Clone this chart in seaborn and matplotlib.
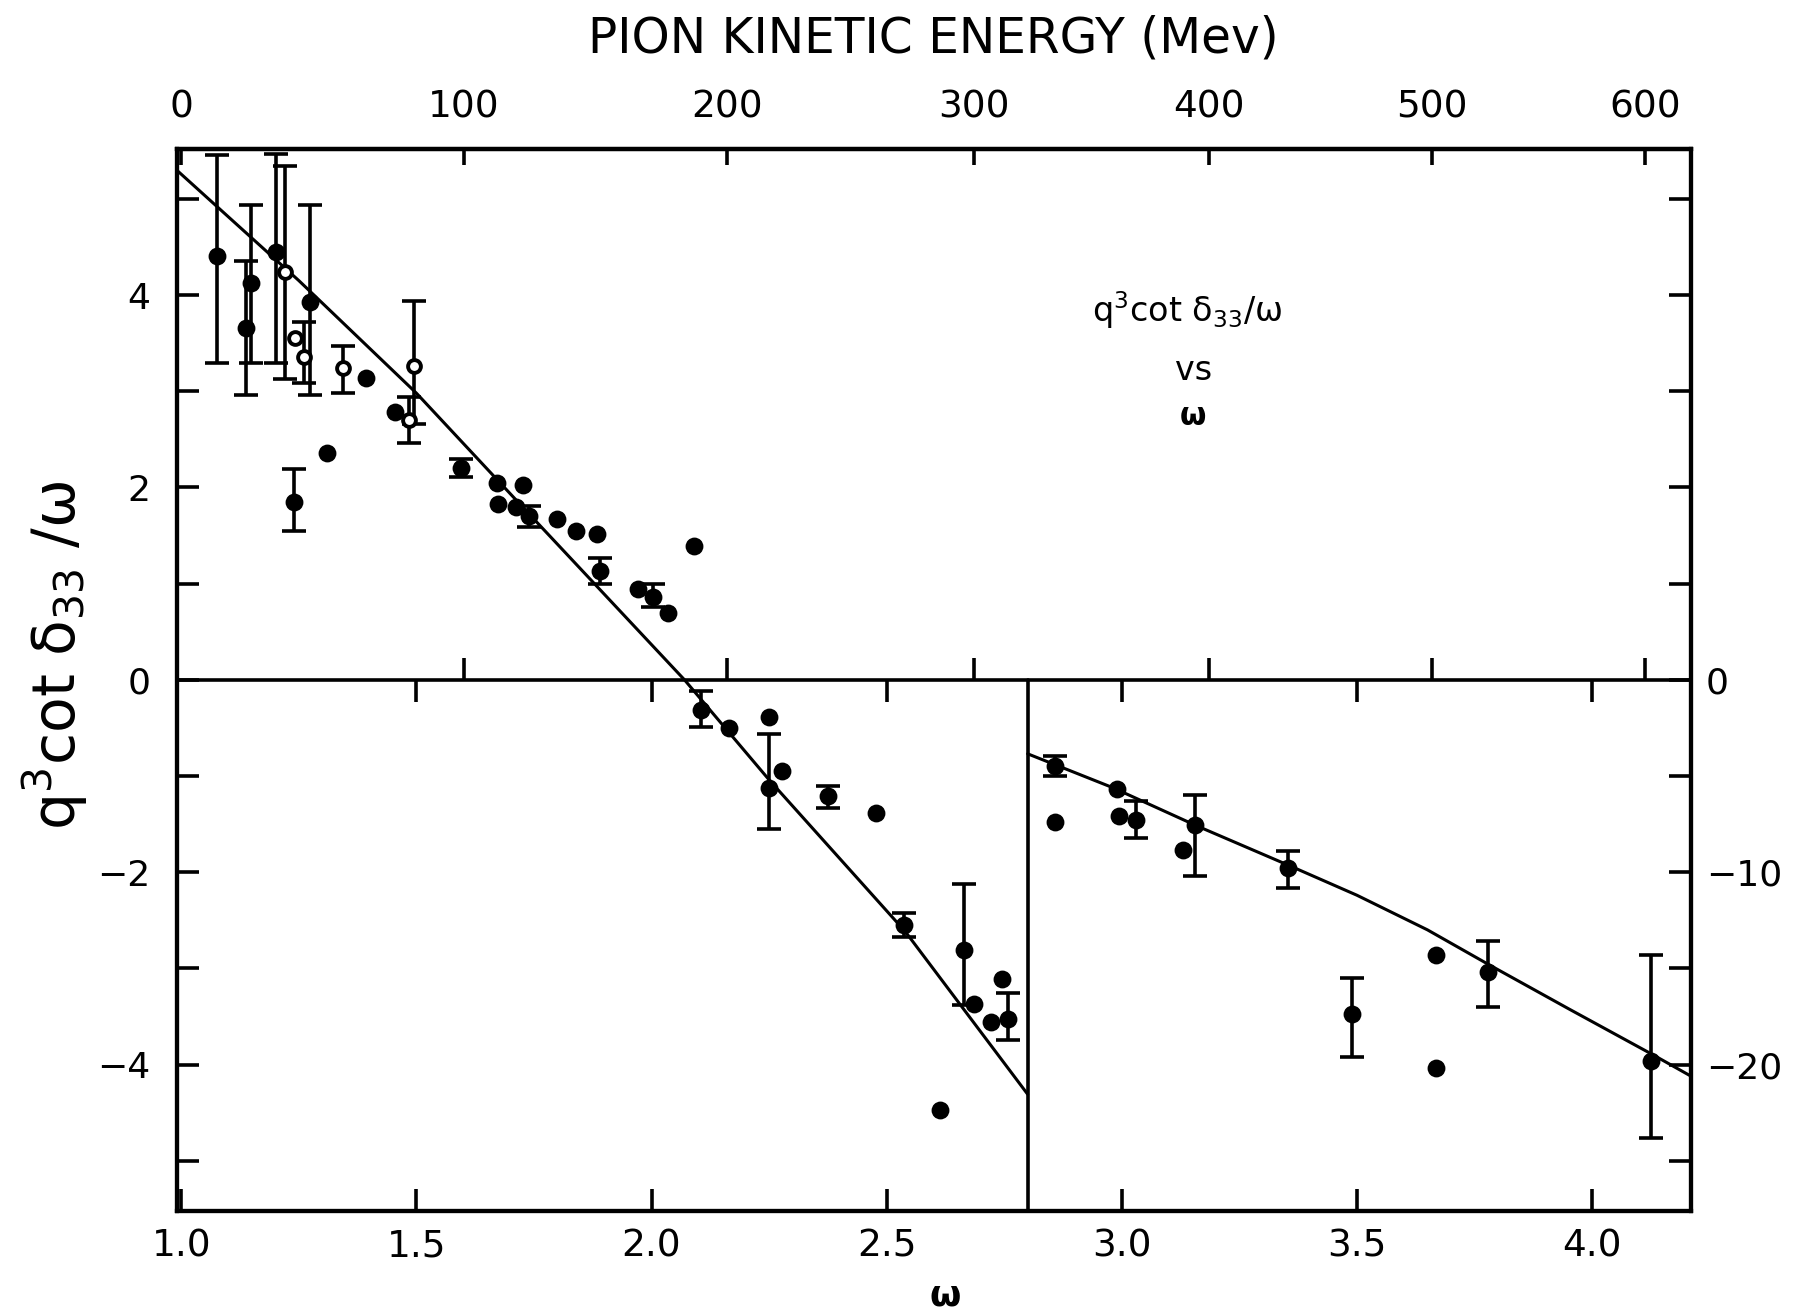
import numpy as np
import matplotlib
matplotlib.use("Agg")
import matplotlib.pyplot as plt
from matplotlib.ticker import FixedLocator, FuncFormatter
import seaborn as sns

# ---------------------------------------------------------------
# q^3 cot(delta_33)/omega versus omega  (pi-nucleon P33 phase shift)
# ---------------------------------------------------------------

# Low-energy part (omega < 2.8), left scale
# filled points with error bars
w_err = [1.077, 1.138, 1.149, 1.202, 1.239, 1.274, 1.595, 1.740, 1.890, 2.004,
         2.105, 2.250, 2.376, 2.537, 2.664, 2.758]
y_err = [4.41, 3.66, 4.12, 4.45, 1.85, 3.93, 2.20, 1.70, 1.13, 0.86,
         -0.31, -1.13, -1.21, -2.55, -2.81, -3.53]
y_err_lo = [3.29, 2.96, 3.29, 3.29, 1.55, 2.96, 2.11, 1.59, 1.00, 0.76,
            -0.49, -1.55, -1.33, -2.67, -3.38, -3.75]
y_err_hi = [5.46, 4.35, 4.94, 5.47, 2.19, 4.94, 2.30, 1.81, 1.27, 1.00,
            -0.12, -0.56, -1.10, -2.43, -2.12, -3.26]

# filled points without error bars
w_pts = [1.311, 1.392, 1.455, 1.671, 1.674, 1.712, 1.726, 1.800, 1.839, 1.885,
         1.972, 2.035, 2.091, 2.165, 2.249, 2.277, 2.478, 2.614, 2.686, 2.722, 2.746]
y_pts = [2.36, 3.14, 2.78, 2.05, 1.83, 1.80, 2.02, 1.67, 1.55, 1.52,
         0.94, 0.69, 1.39, -0.50, -0.39, -0.95, -1.39, -4.47, -3.37, -3.56, -3.11]

# open circles (with error bars where measured)
w_open = [1.221, 1.241, 1.262, 1.344, 1.484, 1.496]
y_open = [4.24, 3.55, 3.36, 3.24, 2.70, 3.26]
y_open_lo = [3.13, np.nan, 3.08, 2.98, 2.46, 2.66]
y_open_hi = [5.34, np.nan, 3.72, 3.47, 2.94, 3.94]

# effective-range curve, low-energy part
w_fit_lo = [0.99, 1.25, 1.50, 1.75, 2.07, 2.25, 2.54, 2.80]
y_fit_lo = [5.30, 4.15, 2.98, 1.67, 0.00, -1.04, -2.62, -4.31]

# High-energy part (omega > 2.8), right scale (5x)
w_err_r = [2.858, 3.030, 3.155, 3.354, 3.490, 3.778, 4.125]
y_err_r = [-4.46, -7.30, -7.55, -9.80, -17.4, -15.2, -19.8]
y_err_r_lo = [-5.00, -8.20, -10.2, -10.8, -19.6, -17.0, -23.8]
y_err_r_hi = [-3.94, -6.30, -6.00, -8.90, -15.5, -13.6, -14.3]

w_pts_r = [2.858, 2.990, 2.995, 3.130, 3.668, 3.668]
y_pts_r = [-7.37, -5.70, -7.10, -8.85, -14.3, -20.2]

w_fit_hi = [2.80, 2.98, 3.16, 3.36, 3.50, 3.65, 3.78, 3.95, 4.13, 4.21]
y_fit_hi = [-3.85, -5.60, -7.60, -9.70, -11.2, -13.0, -14.8, -17.1, -19.5, -20.6]

# axis settings
OMEGA_SPLIT = 2.8
RIGHT_SCALE = 5.0
x_range = (0.99, 4.21)
y_range = (-5.52, 5.52)
omega_ticks = [1.0, 1.5, 2.0, 2.5, 3.0, 3.5, 4.0]
energy_ticks = [0, 100, 200, 300, 400, 500, 600]

M_N, M_PI = 938.3, 139.6  # MeV


def T_from_omega(w):
    w = np.asarray(w, dtype=float)
    return ((M_N + M_PI * w) ** 2 - (M_N + M_PI) ** 2) / (2.0 * M_N)


def omega_from_T(T):
    T = np.asarray(T, dtype=float)
    s = (M_N + M_PI) ** 2 + 2.0 * M_N * T
    return (np.sqrt(np.maximum(s, 1.0)) - M_N) / M_PI


sns.set_theme(style="ticks")
plt.rcParams["font.family"] = ["DejaVu Sans"]
plt.rcParams["mathtext.fontset"] = "dejavusans"
plt.rcParams["axes.linewidth"] = 3.0
plt.rcParams["axes.edgecolor"] = "black"

LW = 2.6
SPINE_LW = 3.0
TICK_LEN = 16

fig = plt.figure(figsize=(17.96, 13.11), dpi=100)
ax = fig.add_axes([0.0983, 0.0765, 0.8431, 0.8100])
ax2 = ax.twinx()

ax.set_xlim(*x_range)
ax.set_ylim(*y_range)
ax2.set_ylim(RIGHT_SCALE * y_range[0], RIGHT_SCALE * y_range[1])

# frame pieces: zero line and panel divider
ax.axhline(0, color="black", lw=LW, zorder=3)
ax.axvline(OMEGA_SPLIT, ymin=0, ymax=(0 - y_range[0]) / (y_range[1] - y_range[0]),
           color="black", lw=LW, zorder=3)

# ticks along the zero line
ax.plot(omega_ticks[1:], np.zeros(len(omega_ticks) - 1), ls="none",
        marker=3, ms=TICK_LEN, mew=LW, color="black", zorder=3)
ax.plot(omega_from_T(energy_ticks[1:]), np.zeros(len(energy_ticks) - 1), ls="none",
        marker=2, ms=TICK_LEN, mew=LW, color="black", zorder=3)

# curves
sns.lineplot(x=w_fit_lo, y=y_fit_lo, ax=ax, color="black", lw=2.2,
             sort=False, estimator=None)
sns.lineplot(x=w_fit_hi, y=y_fit_hi, ax=ax2, color="black", lw=2.2,
             sort=False, estimator=None)

# error bars
ebar = dict(fmt="none", ecolor="black", elinewidth=LW, capsize=8.5, capthick=LW, zorder=4)
ye = np.array(y_err)
ax.errorbar(w_err, ye, yerr=[ye - np.array(y_err_lo), np.array(y_err_hi) - ye], **ebar)

yo = np.array(y_open)
has_bar = ~np.isnan(np.array(y_open_lo))
ax.errorbar(np.array(w_open)[has_bar], yo[has_bar],
            yerr=[yo[has_bar] - np.array(y_open_lo)[has_bar],
                  np.array(y_open_hi)[has_bar] - yo[has_bar]], **ebar)

yr = np.array(y_err_r)
ax2.errorbar(w_err_r, yr, yerr=[yr - np.array(y_err_r_lo), np.array(y_err_r_hi) - yr], **ebar)

# points
dot = dict(color="black", s=165, linewidth=0, legend=False, zorder=5)
sns.scatterplot(x=w_err, y=y_err, ax=ax, **dot)
sns.scatterplot(x=w_pts, y=y_pts, ax=ax, **dot)
sns.scatterplot(x=w_err_r, y=y_err_r, ax=ax2, **dot)
sns.scatterplot(x=w_pts_r, y=y_pts_r, ax=ax2, **dot)
sns.scatterplot(x=w_open, y=y_open, ax=ax, color="white", edgecolor="black",
                s=85, linewidth=2.8, legend=False, zorder=6)

# left axis
ax.yaxis.set_major_locator(FixedLocator(np.arange(-5, 6, 1)))
ax.yaxis.set_major_formatter(FuncFormatter(
    lambda v, p: f"{int(round(v))}".replace("-", "\u2212") if int(round(v)) % 2 == 0 else ""))
ax.xaxis.set_major_locator(FixedLocator(omega_ticks))
ax.xaxis.set_major_formatter(FuncFormatter(lambda v, p: f"{v:.1f}"))
ax.tick_params(axis="y", direction="in", length=TICK_LEN, width=LW, labelsize=26,
               pad=19, left=True, right=False, colors="black")
ax.tick_params(axis="x", direction="in", length=TICK_LEN, width=LW, labelsize=27,
               pad=13, bottom=True, top=False, colors="black")
ax.set_xlabel("")
ax.set_ylabel("")

# right axis (5x scale)
ax2.yaxis.set_major_locator(FixedLocator(np.arange(-25, 26, 5)))
ax2.yaxis.set_major_formatter(FuncFormatter(
    lambda v, p: f"{int(round(v))}".replace("-", "\u2212") if int(round(v)) in (0, -10, -20) else ""))
ax2.tick_params(axis="y", direction="in", length=TICK_LEN, width=LW, labelsize=26,
                pad=11, right=True, left=False, colors="black")
ax2.set_ylabel("")

for a in (ax, ax2):
    for sp in a.spines.values():
        sp.set_linewidth(SPINE_LW)
        sp.set_color("black")

# top axis: pion kinetic energy
sec = ax.secondary_xaxis("top", functions=(T_from_omega, omega_from_T))
sec.xaxis.set_major_locator(FixedLocator(energy_ticks))
sec.xaxis.set_major_formatter(FuncFormatter(lambda v, p: f"{int(round(v))}"))
sec.tick_params(direction="in", length=11.5, width=LW, labelsize=27, pad=17, colors="black")
sec.spines["top"].set_linewidth(SPINE_LW)

# labels
fig.text(0.5198, 0.971, "PION KINETIC ENERGY (Mev)", ha="center", va="center",
         fontsize=35, color="black")
fig.text(0.526, 0.012, "\u03c9", ha="center", va="center", fontsize=26,
         fontweight="bold", color="black")
fig.text(0.031, 0.50, "q$^{3}$cot \u03b4$_{33}$ /\u03c9", rotation=90,
         ha="center", va="center", fontsize=42, color="black")

ax.text(3.138, 3.72, "q$^{3}$cot \u03b4$_{33}$/\u03c9", ha="center", va="baseline",
        fontsize=24, color="black")
ax.text(3.152, 3.22, "vs", ha="center", va="center", fontsize=24, color="black")
ax.text(3.152, 2.74, "\u03c9", ha="center", va="center", fontsize=22,
        fontweight="bold", color="black")

fig.savefig("out.png", dpi=100, facecolor="white")
